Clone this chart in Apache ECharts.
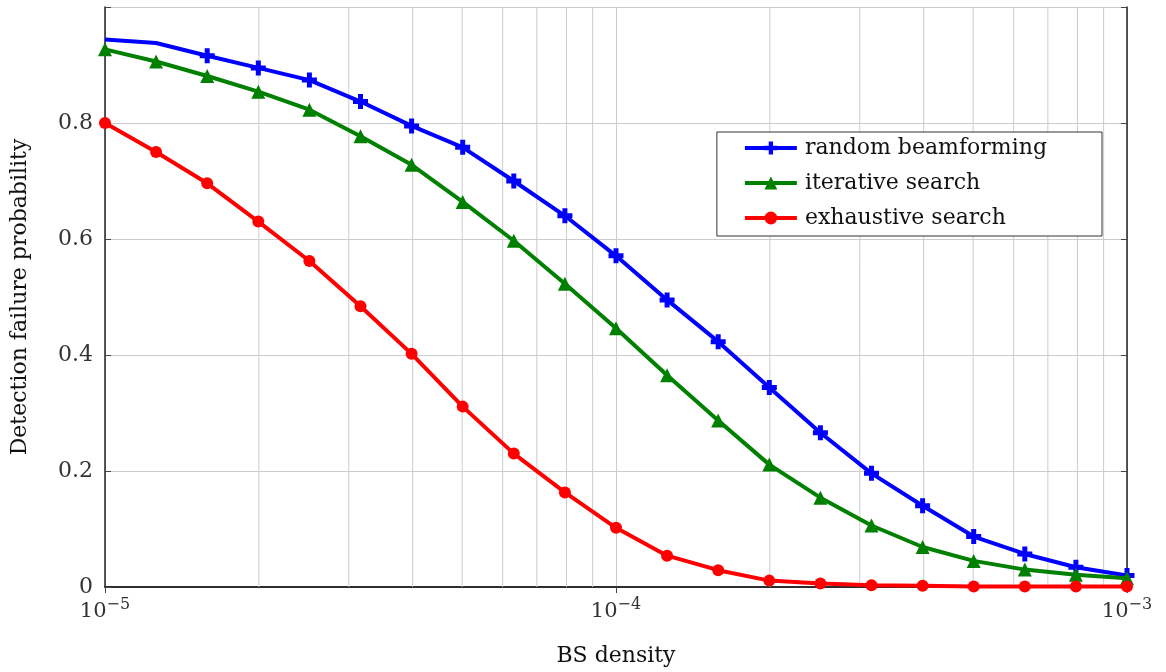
<!DOCTYPE html>
<html>
<head>
<meta charset="utf-8">
<script src="https://cdn.jsdelivr.net/npm/echarts@6/dist/echarts.min.js"></script>
<style>
  html, body { margin: 0; padding: 0; background: #fff; }
  #chart { width: 1166px; height: 672px; }
</style>
</head>
<body>
<div id="chart"></div>
<script>
// BS density samples: ten points per decade from 1e-5 to 1e-3
const density = [
  1.0e-5, 1.2589e-5, 1.5849e-5, 1.9953e-5, 2.5119e-5, 3.1623e-5, 3.9811e-5,
  5.0119e-5, 6.3096e-5, 7.9433e-5, 1.0e-4, 1.2589e-4, 1.5849e-4, 1.9953e-4,
  2.5119e-4, 3.1623e-4, 3.9811e-4, 5.0119e-4, 6.3096e-4, 7.9433e-4, 1.0e-3
];

const randomBeamforming = [
  0.944, 0.938, 0.916, 0.895, 0.874, 0.837, 0.795, 0.758, 0.700, 0.640, 0.571,
  0.495, 0.423, 0.344, 0.266, 0.196, 0.140, 0.087, 0.057, 0.034, 0.020
];

const iterativeSearch = [
  0.927, 0.906, 0.881, 0.854, 0.823, 0.777, 0.728, 0.664, 0.597, 0.523, 0.446,
  0.365, 0.287, 0.211, 0.154, 0.106, 0.069, 0.045, 0.030, 0.021, 0.015
];

const exhaustiveSearch = [
  0.800, 0.750, 0.696, 0.630, 0.562, 0.484, 0.402, 0.311, 0.230, 0.163, 0.102,
  0.054, 0.029, 0.011, 0.006, 0.003, 0.002, 0.001, 0.001, 0.001, 0.001
];

const seriesNames = ['random beamforming', 'iterative search', 'exhaustive search'];

// vertical grid lines at 2..9 within each decade
const minorGrid = [
  2e-5, 3e-5, 4e-5, 5e-5, 6e-5, 7e-5, 8e-5, 9e-5,
  2e-4, 3e-4, 4e-4, 5e-4, 6e-4, 7e-4, 8e-4, 9e-4
];

const yTicks = [0, 0.2, 0.4, 0.6, 0.8];

const serif = '"DejaVu Serif", "Liberation Serif", serif';
const plusPath = 'path://M4,0h4v4h4v4h-4v4h-4v-4h-4v-4h4z';
const gridColor = '#cccccc';

const pairs = (ys, skip) => density.map((x, i) =>
  skip && skip.includes(i) ? { value: [x, ys[i]], symbol: 'none' } : [x, ys[i]]);

const chart = echarts.init(document.getElementById('chart'), null, { renderer: 'canvas' });

const expLabel = v => {
  const e = Math.round(Math.log10(v));
  return '{b|10}{s|\u2212' + Math.abs(e) + '}';
};

// one vertical line per minor grid value, spanning the full y range
const renderMinorLine = (params, api) => {
  const bottom = api.coord([api.value(0), 0]);
  const top = api.coord([api.value(0), 1]);
  return {
    type: 'line',
    shape: { x1: bottom[0], y1: bottom[1], x2: top[0], y2: top[1] },
    style: { stroke: gridColor, lineWidth: 1 },
    silent: true
  };
};

chart.setOption({
  animation: false,
  backgroundColor: '#ffffff',
  grid: { left: 105, right: 39, top: 7, bottom: 80, containLabel: false },
  legend: {
    orient: 'vertical',
    right: 64,
    top: 132,
    padding: [5, 55, 7, 26],
    itemWidth: 52,
    itemHeight: 16,
    itemGap: 13,
    borderColor: '#333',
    borderWidth: 1,
    backgroundColor: '#fff',
    lineStyle: { width: 4 },
    textStyle: { fontFamily: serif, fontSize: 22, color: '#111', padding: [0, 0, 0, 3] },
    data: seriesNames
  },
  xAxis: [{
    type: 'log',
    logBase: 10,
    min: 1e-5,
    max: 1e-3,
    name: 'BS density',
    nameLocation: 'middle',
    nameGap: 58,
    nameTextStyle: { fontFamily: serif, fontSize: 22, color: '#111' },
    axisLine: { show: true, onZero: false, lineStyle: { color: '#222', width: 1.5 } },
    axisTick: { show: false },
    splitLine: { show: true, lineStyle: { color: gridColor, width: 1 } },
    axisLabel: {
      margin: 4,
      formatter: expLabel,
      rich: {
        b: { fontFamily: serif, fontSize: 21, color: '#333', padding: [10, 0, 0, 0] },
        s: { fontFamily: serif, fontSize: 16, color: '#333', padding: [0, 0, 4, 0] }
      }
    }
  }, {
    type: 'log',
    logBase: 10,
    min: 1e-5,
    max: 1e-3,
    position: 'top',
    axisLine: { show: true, lineStyle: { color: '#222', width: 1.5 } },
    axisTick: { show: true, inside: true, length: 6, lineStyle: { color: '#444' } },
    axisLabel: { show: false },
    splitLine: { show: false }
  }],
  yAxis: [{
    type: 'value',
    min: 0,
    max: 1,
    interval: 0.2,
    name: 'Detection failure probability',
    nameLocation: 'middle',
    nameGap: 74,
    nameTextStyle: { fontFamily: serif, fontSize: 22, color: '#111' },
    axisLine: { show: true, lineStyle: { color: '#222', width: 1.5 } },
    axisTick: { show: true, inside: true, length: 6, lineStyle: { color: '#444' } },
    splitLine: { show: true, lineStyle: { color: gridColor, width: 1 } },
    axisLabel: {
      margin: 12,
      fontFamily: serif,
      fontSize: 22,
      color: '#333',
      formatter: v => {
        const t = yTicks.find(k => Math.abs(k - v) < 1e-9);
        if (t === undefined) return '';
        return t === 0 ? '0' : t.toFixed(1);
      }
    }
  }, {
    type: 'value',
    min: 0,
    max: 1,
    interval: 0.2,
    position: 'right',
    axisLine: { show: true, lineStyle: { color: '#222', width: 1.5 } },
    axisTick: { show: true, inside: true, length: 6, lineStyle: { color: '#444' } },
    axisLabel: { show: false },
    splitLine: { show: false }
  }],
  series: [
    {
      name: 'minor grid',
      type: 'custom',
      silent: true,
      z: 1,
      clip: true,
      encode: { x: 0 },
      data: minorGrid.map(v => [v]),
      renderItem: renderMinorLine
    },
    {
      name: seriesNames[0],
      type: 'line',
      data: pairs(randomBeamforming, [0, 1]),
      symbol: plusPath,
      symbolSize: 15,
      showAllSymbol: true,
      color: '#0000ff',
      lineStyle: { width: 4, color: '#0000ff' },
      itemStyle: { color: '#0000ff' },
      z: 3
    },
    {
      name: seriesNames[1],
      type: 'line',
      data: pairs(iterativeSearch),
      symbol: 'triangle',
      symbolSize: 14,
      showAllSymbol: true,
      color: '#008000',
      lineStyle: { width: 4, color: '#008000' },
      itemStyle: { color: '#008000' },
      z: 4
    },
    {
      name: seriesNames[2],
      type: 'line',
      data: pairs(exhaustiveSearch),
      symbol: 'circle',
      symbolSize: 12,
      showAllSymbol: true,
      color: '#ff0000',
      lineStyle: { width: 4, color: '#ff0000' },
      itemStyle: { color: '#ff0000' },
      z: 5
    }
  ]
});
</script>
</body>
</html>
